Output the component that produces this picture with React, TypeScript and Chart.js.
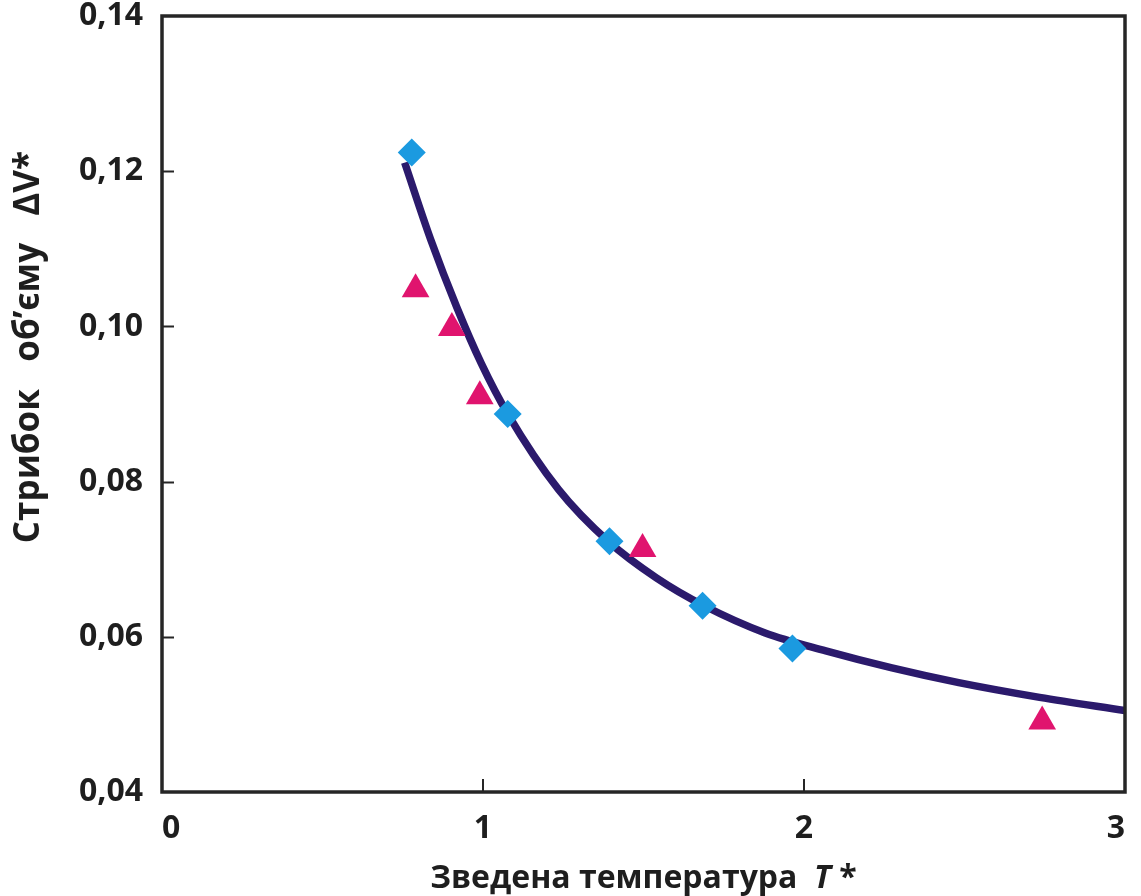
import React, { useEffect, useRef } from 'react';
import { Chart, registerables } from 'chart.js';

Chart.register(...registerables);

// Fitted curve (reduced temperature T*, volume jump ΔV*)
const curveT = [0.756, 0.837, 0.918, 0.995, 1.076, 1.235, 1.393, 1.54, 1.689, 1.879, 2.068, 2.274, 2.482, 2.734, 3.0];
const curveDV = [0.1211, 0.1112, 0.1025, 0.0952, 0.0888, 0.079, 0.0722, 0.0676, 0.064, 0.0605, 0.0582, 0.056, 0.0541, 0.0522, 0.0505];

// Blue diamonds
const diamondT = [0.778, 1.077, 1.394, 1.684, 1.964];
const diamondDV = [0.1224, 0.0887, 0.0723, 0.064, 0.0585];

// Magenta triangles
const triangleT = [0.79, 0.903, 0.99, 1.497, 2.742];
const triangleDV = [0.1048, 0.0998, 0.091, 0.0713, 0.0491];

const xTickValues = [0, 1, 2, 3];
const yTickValues = [0.04, 0.06, 0.08, 0.1, 0.12, 0.14];
const yTickLabels = ['0,04', '0,06', '0,08', '0,10', '0,12', '0,14'];

const xTitleMain = 'Зведена температура  ';
const xTitleVar = 'T';
const xTitleTail = ' *';
const yTitle = 'Стрибок   об’єму   ΔV*';

const FONT = '"Open Sans", "DejaVu Sans", sans-serif';
const TEXT_COLOR = '#1e1e1e';

const framePlugin = {
  id: 'frameAndTitles',
  afterDraw(chart: any) {
    const { ctx, chartArea } = chart;
    const { left, right, top, bottom } = chartArea;
    const xs = chart.scales.x;
    const ys = chart.scales.y;
    ctx.save();
    // inward tick marks
    ctx.strokeStyle = '#262626';
    ctx.lineWidth = 2;
    ctx.beginPath();
    yTickValues.slice(1, -1).forEach((v) => {
      const py = Math.round(ys.getPixelForValue(v)) + 0.5;
      ctx.moveTo(left, py);
      ctx.lineTo(left + 12, py);
    });
    xTickValues.slice(1, -1).forEach((v) => {
      const px = Math.round(xs.getPixelForValue(v));
      ctx.moveTo(px, bottom);
      ctx.lineTo(px, bottom - 13);
    });
    ctx.stroke();
    // frame
    ctx.lineWidth = 3.5;
    ctx.strokeStyle = '#262626';
    ctx.strokeRect(left, top, right - left, bottom - top);

    // x-axis title with italic variable
    ctx.fillStyle = TEXT_COLOR;
    ctx.textBaseline = 'alphabetic';
    ctx.textAlign = 'left';
    const fNormal = `bold 32px ${FONT}`;
    const fItalic = `italic bold 32px ${FONT}`;
    ctx.font = fNormal;
    const w1 = ctx.measureText(xTitleMain).width;
    const w3 = ctx.measureText(xTitleTail).width;
    ctx.font = fItalic;
    const w2 = ctx.measureText(xTitleVar).width;
    const total = w1 + w2 + w3;
    const x0 = (left + right) / 2 - total / 2;
    const yb = 888;
    ctx.font = fNormal;
    ctx.fillText(xTitleMain, x0, yb);
    ctx.font = fItalic;
    ctx.fillText(xTitleVar, x0 + w1, yb);
    ctx.font = fNormal;
    ctx.fillText(xTitleTail, x0 + w1 + w2, yb);

    // y-axis title, rotated
    ctx.translate(29, 347);
    ctx.rotate(-Math.PI / 2);
    ctx.textAlign = 'center';
    ctx.textBaseline = 'middle';
    ctx.font = `bold 35px ${FONT}`;
    ctx.fillText(yTitle, 0, 0);
    ctx.restore();
  },
};

export default function App() {
  const ref = useRef<HTMLCanvasElement | null>(null);

  useEffect(() => {
    if (!ref.current) return;
    const chart = new Chart(ref.current, {
      type: 'scatter',
      data: {
        datasets: [
          {
            label: 'diamonds',
            data: diamondT.map((t, i) => ({ x: t, y: diamondDV[i] })),
            pointStyle: 'rectRot',
            pointRadius: 14,
            pointBackgroundColor: '#1b9ae0',
            pointBorderColor: '#1b9ae0',
            pointBorderWidth: 0,
            showLine: false,
            order: 0,
          },
          {
            label: 'triangles',
            data: triangleT.map((t, i) => ({ x: t, y: triangleDV[i] })),
            pointStyle: 'triangle',
            pointRadius: 16,
            pointBackgroundColor: '#e0146e',
            pointBorderColor: '#e0146e',
            pointBorderWidth: 0,
            showLine: false,
            order: 1,
          },
          {
            label: 'fit',
            data: curveT.map((t, i) => ({ x: t, y: curveDV[i] })),
            showLine: true,
            borderColor: '#2b1a6c',
            borderWidth: 7.5,
            pointRadius: 0,
            cubicInterpolationMode: 'monotone',
            fill: false,
            order: 2,
          } as any,
        ],
      },
      options: {
        responsive: false,
        animation: false,
        events: [],
        layout: { padding: { top: 13, right: 14, left: 0, bottom: 0 } },
        plugins: {
          legend: { display: false },
          tooltip: { enabled: false },
        },
        scales: {
          x: {
            type: 'linear',
            min: 0,
            max: 3,
            afterBuildTicks: (scale: any) => {
              scale.ticks = xTickValues.map((v) => ({ value: v }));
            },
            afterFit: (scale: any) => {
              scale.height = 104;
              scale.paddingLeft = 0;
              scale.paddingRight = 0;
            },
            grid: { display: false, drawTicks: false },
            border: { display: false },
            ticks: {
              align: 'inner',
              padding: 18,
              color: TEXT_COLOR,
              font: { family: FONT, size: 32, weight: 'bold' },
              callback: (v: any) => String(v),
            },
          },
          y: {
            type: 'linear',
            min: 0.04,
            max: 0.14,
            afterBuildTicks: (scale: any) => {
              scale.ticks = yTickValues.map((v) => ({ value: v }));
            },
            afterFit: (scale: any) => {
              scale.width = 162;
              scale.paddingTop = 0;
              scale.paddingBottom = 0;
            },
            grid: { display: false, drawTicks: false },
            border: { display: false },
            ticks: {
              padding: 19,
              color: TEXT_COLOR,
              font: { family: FONT, size: 32, weight: 'bold' },
              callback: (v: any) => {
                const i = yTickValues.findIndex((t) => Math.abs(t - v) < 1e-9);
                return i >= 0 ? yTickLabels[i] : '';
              },
            },
          },
        },
      },
      plugins: [framePlugin],
    });
    return () => chart.destroy();
  }, []);

  return (
    <div style={{ position: 'absolute', left: 0, top: 0, width: 1141, height: 896, background: '#fff' }}>
      <canvas ref={ref} width={1141} height={896} style={{ display: 'block' }} />
    </div>
  );
}
